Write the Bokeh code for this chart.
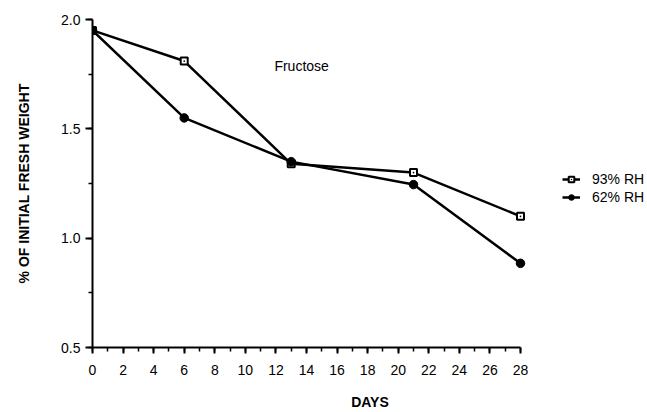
from bokeh.plotting import figure
from bokeh.models import Range1d, Legend, LegendItem, Label, FixedTicker, CustomJSTickFormatter
from bokeh.embed import file_html
from bokeh.resources import INLINE

days = [0, 6, 13, 21, 28]
rh93 = [1.95, 1.81, 1.34, 1.30, 1.10]
rh62 = [1.95, 1.55, 1.35, 1.245, 0.885]
x_ticks = list(range(0, 29, 2))
y_ticks = [0.5, 1.0, 1.5, 2.0]

FONT = "Liberation Sans"

# frame spans full width; axis is bounded to 0..28 (28 days -> 428 px)
x_end = 28 * (647 - 92) / 428.0
p = figure(width=647, height=412, output_backend="svg", toolbar_location=None,
           x_range=Range1d(0, x_end), y_range=Range1d(0.5, 2.0),
           min_border_left=92, min_border_right=0, min_border_top=19, min_border_bottom=63)
p.outline_line_color = None
p.xgrid.visible = False
p.ygrid.visible = False
p.xaxis.bounds = (0, 28)

for ax in (p.xaxis[0], p.yaxis[0]):
    ax.axis_line_width = 2
    ax.axis_line_color = "black"
    ax.major_tick_line_width = 2
    ax.minor_tick_line_width = 1.5
    ax.major_tick_in = 0
    ax.minor_tick_in = 0
    ax.major_label_text_font = FONT
    ax.major_label_text_font_size = "14px"
    ax.major_label_text_color = "black"
    ax.axis_label_text_font = FONT
    ax.axis_label_text_font_style = "bold"
    ax.axis_label_text_font_size = "14px"
    ax.axis_label_text_color = "black"

p.xaxis.ticker = FixedTicker(ticks=x_ticks, minor_ticks=list(range(0, 29)))
p.yaxis.ticker = FixedTicker(ticks=y_ticks, minor_ticks=[0.5, 0.75, 1.0, 1.25, 1.5, 1.75, 2.0])
p.xaxis.major_tick_out = 6
p.xaxis.minor_tick_out = 4
p.yaxis.major_tick_out = 7
p.yaxis.minor_tick_out = 4
p.xaxis.major_label_standoff = 11
p.yaxis.major_label_standoff = 5
p.yaxis.formatter = CustomJSTickFormatter(code="return tick.toFixed(1);")
p.xaxis.axis_label = "DAYS"
p.yaxis.axis_label = "% OF INITIAL FRESH WEIGHT"
p.xaxis.axis_label_standoff = 16
p.yaxis.axis_label_standoff = 26

l93 = p.line(days, rh93, line_color="black", line_width=2.5)
l62 = p.line(days, rh62, line_color="black", line_width=2.5)
m93 = p.scatter(days, rh93, marker="square_dot", size=7, fill_color="white",
                line_color="black", line_width=2)
m62 = p.scatter(days, rh62, marker="circle", size=8.5, fill_color="black",
                line_color="black")

legend = Legend(items=[LegendItem(label="93% RH", renderers=[l93, m93]),
                       LegendItem(label="62% RH", renderers=[l62, m62])],
                location=(470, 142), background_fill_alpha=0, border_line_color=None,
                label_text_font=FONT, label_text_font_size="14px", label_text_color="black",
                glyph_width=18, glyph_height=14, spacing=2, label_standoff=12,
                padding=0, margin=0)
p.add_layout(legend, "center")

p.add_layout(Label(x=11.9, y=1.786, text="Fructose", text_font=FONT,
                   text_font_size="14px", text_baseline="middle", text_color="black"))

open("out.html", "w").write(file_html(p, INLINE))
